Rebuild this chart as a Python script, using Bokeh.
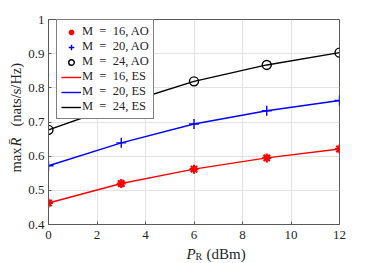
import math
from bokeh.plotting import figure
from bokeh.layouts import row, column
from bokeh.models import (Range1d, FixedTicker, CustomJSTickFormatter, Legend,
                          LegendItem, Label)
from bokeh.embed import file_html
from bokeh.resources import INLINE

# ---- data ----
p_r = [0, 3, 6, 9, 12]
m16 = [0.463, 0.520, 0.562, 0.595, 0.621]
m20 = [0.572, 0.639, 0.694, 0.733, 0.763]
m24 = [0.677, 0.752, 0.819, 0.867, 0.903]
x_ticks = [0, 2, 4, 6, 8, 10, 12]
y_ticks = [0.4, 0.5, 0.6, 0.7, 0.8, 0.9, 1.0]
SP = "\u2002"
labels_ao = [f"M{SP}={SP}16, AO", f"M{SP}={SP}20, AO", f"M{SP}={SP}24, AO"]
labels_es = [f"M{SP}={SP}16, ES", f"M{SP}={SP}20, ES", f"M{SP}={SP}24, ES"]

FONT = "Liberation Serif"
TXT = "#262626"

p = figure(width=350, height=246, output_backend="svg", toolbar_location=None,
           title=None, x_range=Range1d(0, 12), y_range=Range1d(0.4, 1.0),
           min_border_left=24, min_border_right=35, min_border_top=19,
           min_border_bottom=22)
p.background_fill_color = "white"
p.border_fill_color = "white"
p.outline_line_color = "#5a5a5a"
p.outline_line_width = 1

for ax in (p.xaxis[0], p.yaxis[0]):
    ax.major_label_text_font = FONT
    ax.major_label_text_font_size = "13px"
    ax.major_label_text_color = TXT
    ax.axis_line_color = "#5a5a5a"
    ax.major_tick_line_color = "#5a5a5a"
    ax.major_tick_in = 3
    ax.major_tick_out = 0
    ax.minor_tick_line_color = None
    ax.formatter = CustomJSTickFormatter(code="return String(+tick.toFixed(2));")
p.yaxis.major_label_standoff = 4
p.xaxis.major_label_standoff = 6
p.xaxis.ticker = FixedTicker(ticks=x_ticks)
p.yaxis.ticker = FixedTicker(ticks=y_ticks)
p.xgrid.ticker = FixedTicker(ticks=x_ticks)
p.ygrid.ticker = FixedTicker(ticks=y_ticks)
p.grid.grid_line_color = "#e3e3e3"
p.grid.grid_line_width = 1

series = [(m16, "#ff0000"), (m20, "#0000ff"), (m24, "#000000")]
line_r = []
mark_r = []
for (ys, col) in series:
    line_r.append(p.line(p_r, ys, line_color=col, line_width=1.4))
mark_r.append(p.scatter(p_r, m16, marker="asterisk", size=9, line_color="#ff0000",
                        line_width=2.2))
mark_r.append(p.scatter(p_r, m20, marker="cross", size=10, line_color="#0000ff",
                        line_width=1.4))
mark_r.append(p.scatter(p_r, m24, marker="circle", size=9, line_color="#000000",
                        fill_color=None, line_width=1.4))

items = [LegendItem(label=labels_ao[i], renderers=[mark_r[i]]) for i in range(3)]
items += [LegendItem(label=labels_es[i], renderers=[line_r[i]]) for i in range(3)]
legend = Legend(items=items, location=(8, 105))
legend.margin = 0
legend.padding = 4
legend.spacing = 0
legend.label_height = 14
legend.glyph_height = 14
legend.glyph_width = 20
legend.label_standoff = 1
legend.label_text_font = FONT
legend.label_text_font_size = "12.5px"
legend.label_text_color = TXT
legend.border_line_color = "#000000"
legend.border_line_width = 0.8
legend.background_fill_color = "white"
legend.background_fill_alpha = 1
p.add_layout(legend, "center")


def text_strip(w, h):
    f = figure(width=w, height=h, output_backend="svg", toolbar_location=None,
               title=None, x_range=Range1d(0, 1), y_range=Range1d(0, 1),
               x_axis_type=None, y_axis_type=None,
               min_border_left=0, min_border_right=0, min_border_top=0,
               min_border_bottom=0)
    f.outline_line_color = None
    f.grid.visible = False
    f.background_fill_color = "white"
    f.border_fill_color = "white"
    return f


# y axis label strip: "max R̄ (nats/s/Hz)" with italic R
py = text_strip(24, 263)
for txt, yy, style in [("max", 91, "normal"), ("R\u0304", 117, "italic"),
                       ("(nats/s/Hz)", 137, "normal")]:
    py.add_layout(Label(x=15, y=yy, x_units="screen", y_units="screen", text=txt,
                        angle=math.pi / 2, text_font=FONT, text_font_style=style,
                        text_font_size="14.5px", text_color=TXT,
                        text_align="left", text_baseline="alphabetic"))

# x axis label strip: italic P, subscript R, (dBm)
px = text_strip(350, 17)
px.add_layout(Label(x=138, y=10, x_units="screen", y_units="screen", text="P",
                    text_font=FONT, text_font_style="italic", text_font_size="15px",
                    text_color=TXT, text_align="left", text_baseline="alphabetic"))
px.add_layout(Label(x=147, y=7, x_units="screen", y_units="screen", text="R",
                    text_font=FONT, text_font_size="10px", text_color=TXT,
                    text_align="left", text_baseline="alphabetic"))
px.add_layout(Label(x=158, y=10, x_units="screen", y_units="screen", text="(dBm)",
                    text_font=FONT, text_font_size="15px", text_color=TXT,
                    text_align="left", text_baseline="alphabetic"))

layout = row(py, column(p, px, spacing=0), spacing=0)
open("out.html", "w").write(file_html(layout, INLINE))
